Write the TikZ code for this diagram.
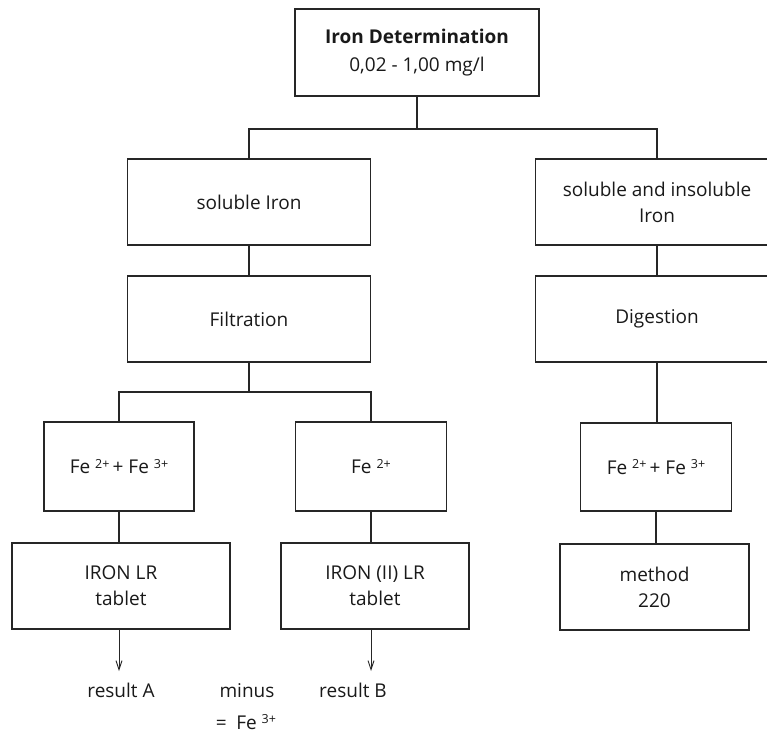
\documentclass[tikz,border=0pt]{standalone}
\usepackage{fontspec}
\setmainfont{Open Sans}
\usetikzlibrary{arrows.meta,positioning}

\newcommand{\charge}[1]{\raisebox{0.55ex}{\fontsize{12.5}{14}\selectfont #1}}

\begin{document}
\begin{tikzpicture}[
    x=1pt,
    y=-1pt,
    >={Straight Barb[length=9pt,width=6pt]},
    font=\fontsize{19}{26}\selectfont,
    box/.style={
        draw=black!85,
        line width=1.2pt,
        rectangle,
        minimum height=86pt,
        align=center,
        inner sep=2pt,
        outer sep=0pt,
        text=black!90
    },
    link/.style={draw=black!85, line width=1.2pt},
    signal/.style={->, draw=black!85, line width=0.9pt},
    note/.style={text=black!90, inner sep=0pt, anchor=base}
]

\clip (0,0) rectangle (767,736);

% =========================
% Nodes
% =========================
\node[box, minimum width=244pt, minimum height=87pt, font=\fontsize{19}{28.5}\selectfont] (top) at (417,52.5) {\textbf{Iron Determination}\\0,02 - 1,00 mg/l};

\node[box, minimum width=243pt] (sol) at (249,202) {soluble Iron};
\node[box, minimum width=243pt, below=31pt of sol] (filt) {Filtration};

\node[box, minimum width=243pt] (solins) at (657,202) {soluble and insoluble\\Iron};
\node[box, minimum width=243pt, below=31pt of solins] (dig) {Digestion};

\node[box, minimum width=150pt, minimum height=89pt] (feA) at (119,466.5) {Fe \charge{2+}\,+ Fe \charge{3+}};
\node[box, minimum width=151pt, minimum height=89pt] (feB) at (371,466.5) {Fe \charge{2+}};
\node[box, minimum width=151pt, minimum height=88pt] (feC) at (656,467) {Fe \charge{2+}\,+ Fe \charge{3+}};

\node[box, minimum width=218pt, below=32pt of feA, xshift=2pt] (tabA) {IRON LR\\tablet};
\node[box, minimum width=188pt, below=32pt of feB, xshift=4pt] (tabB) {IRON (II) LR\\tablet};
\node[box, minimum width=189pt, below=33pt of feC, xshift=-1.5pt] (meth) {method\\220};

\node[note] (resA) at (121,697) {result A};
\node[note] (minus) at (247,697) {minus};
\node[note] (resB) at (353,697) {result B};
\node[note] (diff) at (246,729) {=\enspace Fe \charge{3+}};

% =========================
% Connectors
% =========================
\draw[link] (top.south) -- ++(0,33) coordinate (split);
\draw[link] (sol.north) |- (split) -| (solins.north);

\draw[link] (sol) -- (filt);
\draw[link] (solins) -- (dig);

\draw[link] (filt.south) -- ++(0,30) coordinate (splitB);
\draw[link] (feA.north) |- (splitB) -| (feB.north);
\draw[link] (dig.south) -- (dig.south |- feC.north);

\draw[link] (feA.south) -- (feA.south |- tabA.north);
\draw[link] (feB.south) -- (feB.south |- tabB.north);
\draw[link] (feC.south) -- (feC.south |- meth.north);

% =========================
% Results
% =========================
\draw[signal] (tabA.south -| feA.south) -- ++(0,42) coordinate (endA);
\draw[signal] (tabB.south -| feB.south) -- ++(0,42) coordinate (endB);

\end{tikzpicture}
\end{document}
